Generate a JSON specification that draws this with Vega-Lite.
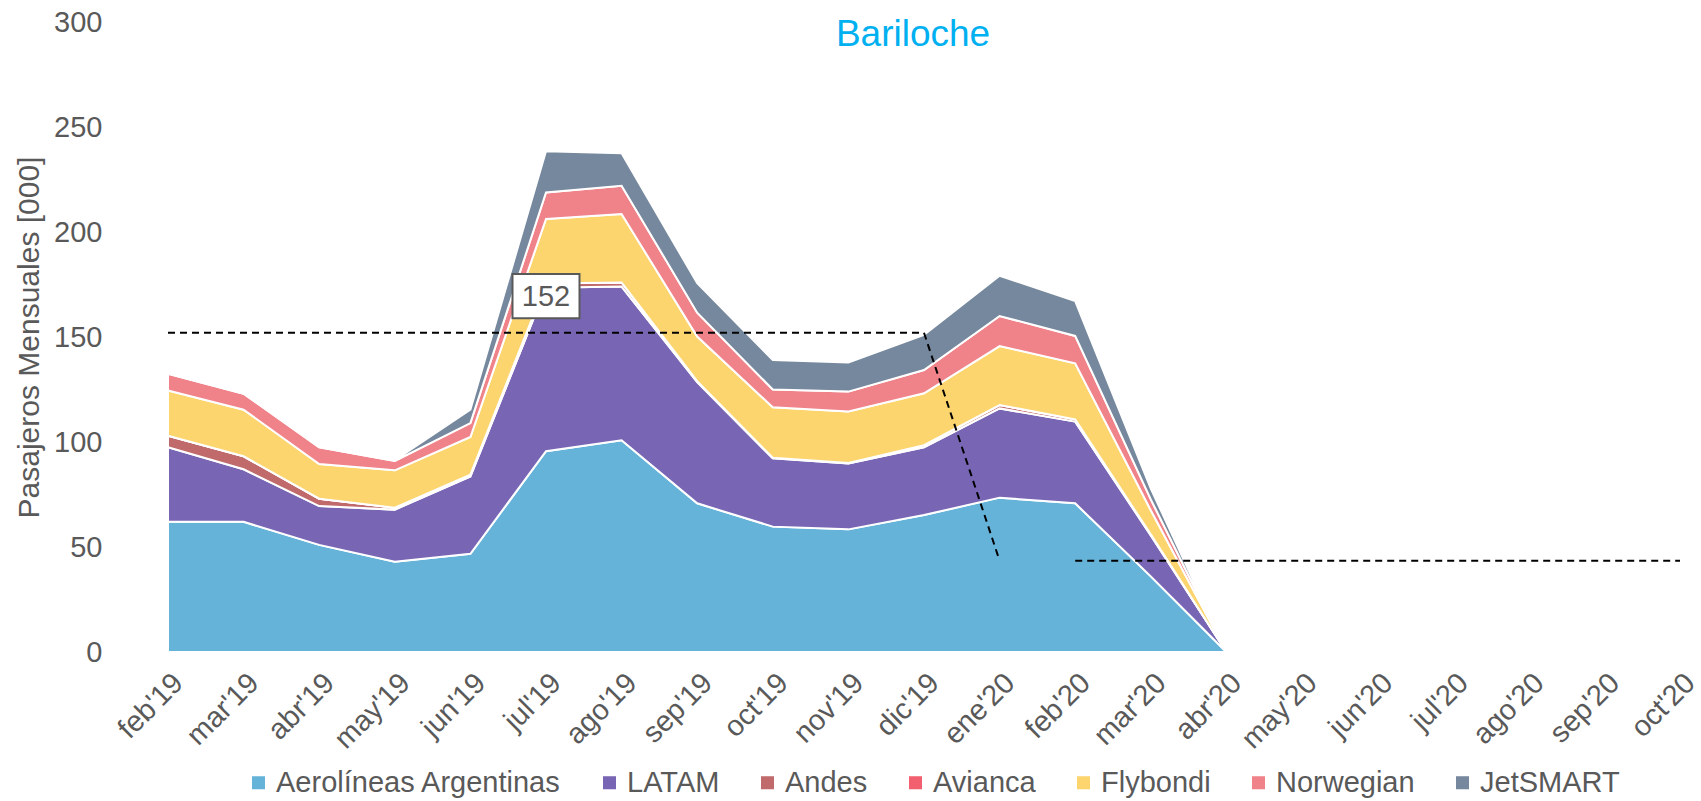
{
  "$schema": "https://vega.github.io/schema/vega-lite/v6.json",
  "width": 1512,
  "height": 630,
  "autosize": {"type": "none"},
  "padding": {"left": 168, "top": 22, "right": 21, "bottom": 149},
  "background": "white",
  "config": {"font": "Liberation Sans", "view": {"stroke": null}},
  "title": {"text": "Bariloche", "color": "#00B0F0", "fontSize": 37, "fontWeight": "normal", "font": "Liberation Sans", "anchor": "middle", "frame": "group", "baseline": "alphabetic", "offset": -75, "dx": -11},
  "datasets": {
    "trafico": [
      {"mes": "feb'19", "Aerolíneas Argentinas": 62, "LATAM": 35.5, "Andes": 5.5, "Avianca": 0, "Flybondi": 21.5, "Norwegian": 8, "JetSMART": 0},
      {"mes": "mar'19", "Aerolíneas Argentinas": 62, "LATAM": 25, "Andes": 6.2, "Avianca": 0, "Flybondi": 22.2, "Norwegian": 7.6, "JetSMART": 0},
      {"mes": "abr'19", "Aerolíneas Argentinas": 51, "LATAM": 18.5, "Andes": 3.5, "Avianca": 0, "Flybondi": 16.5, "Norwegian": 8, "JetSMART": 0},
      {"mes": "may'19", "Aerolíneas Argentinas": 43, "LATAM": 24.8, "Andes": 0.9, "Avianca": 0, "Flybondi": 17.8, "Norwegian": 4.5, "JetSMART": 0.3},
      {"mes": "jun'19", "Aerolíneas Argentinas": 46.8, "LATAM": 36.8, "Andes": 0.9, "Avianca": 0, "Flybondi": 17.9, "Norwegian": 6.6, "JetSMART": 6.4},
      {"mes": "jul'19", "Aerolíneas Argentinas": 95.6, "LATAM": 77.9, "Andes": 2, "Avianca": 0, "Flybondi": 30.7, "Norwegian": 12.6, "JetSMART": 19.7},
      {"mes": "ago'19", "Aerolíneas Argentinas": 100.8, "LATAM": 73.2, "Andes": 2, "Avianca": 0, "Flybondi": 32.6, "Norwegian": 13.4, "JetSMART": 15.5},
      {"mes": "sep'19", "Aerolíneas Argentinas": 70.8, "LATAM": 57.7, "Andes": 0.5, "Avianca": 0, "Flybondi": 21.2, "Norwegian": 11.4, "JetSMART": 14},
      {"mes": "oct'19", "Aerolíneas Argentinas": 59.7, "LATAM": 32.5, "Andes": 0.3, "Avianca": 0, "Flybondi": 24, "Norwegian": 8.5, "JetSMART": 14},
      {"mes": "nov'19", "Aerolíneas Argentinas": 58.4, "LATAM": 31.4, "Andes": 0.2, "Avianca": 0, "Flybondi": 24.5, "Norwegian": 9.5, "JetSMART": 13.9},
      {"mes": "dic'19", "Aerolíneas Argentinas": 65.2, "LATAM": 32.3, "Andes": 1, "Avianca": 0, "Flybondi": 24.7, "Norwegian": 11.1, "JetSMART": 16.7},
      {"mes": "ene'20", "Aerolíneas Argentinas": 73.5, "LATAM": 42.5, "Andes": 1.6, "Avianca": 0, "Flybondi": 28.1, "Norwegian": 14.3, "JetSMART": 19.2},
      {"mes": "feb'20", "Aerolíneas Argentinas": 70.8, "LATAM": 38.9, "Andes": 1.1, "Avianca": 0, "Flybondi": 26.7, "Norwegian": 13, "JetSMART": 16.6},
      {"mes": "mar'20", "Aerolíneas Argentinas": 36, "LATAM": 19.5, "Andes": 0.5, "Avianca": 0, "Flybondi": 11.5, "Norwegian": 5.2, "JetSMART": 5.1},
      {"mes": "abr'20", "Aerolíneas Argentinas": 0, "LATAM": 0, "Andes": 0, "Avianca": 0, "Flybondi": 0, "Norwegian": 0, "JetSMART": 0}
    ],
    "umbral": [
      {"mes": "feb'19", "valor": 152, "tramo": "a"},
      {"mes": "dic'19", "valor": 152, "tramo": "a"},
      {"mes": "ene'20", "valor": 43.5, "tramo": "a"},
      {"mes": "feb'20", "valor": 43.5, "tramo": "b"},
      {"mes": "oct'20", "valor": 43.5, "tramo": "b"}
    ],
    "etiqueta": [
      {"mes": "jul'19", "valor": 169.5, "texto": "152"}
    ]
  },
  "layer": [
    {
      "data": {"name": "trafico"},
      "transform": [
        {"fold": ["Aerolíneas Argentinas", "LATAM", "Andes", "Avianca", "Flybondi", "Norwegian", "JetSMART"], "as": ["aerolinea", "pax"]},
        {"calculate": "indexof(['Aerolíneas Argentinas','LATAM','Andes','Avianca','Flybondi','Norwegian','JetSMART'], datum.aerolinea)", "as": "orden"}
      ],
      "mark": {"type": "area", "stroke": "white", "strokeWidth": 2, "opacity": 1},
      "encoding": {
        "x": {
          "field": "mes", "type": "ordinal", "sort": null,
          "scale": {"type": "point", "padding": 0, "domain": ["feb'19", "mar'19", "abr'19", "may'19", "jun'19", "jul'19", "ago'19", "sep'19", "oct'19", "nov'19", "dic'19", "ene'20", "feb'20", "mar'20", "abr'20", "may'20", "jun'20", "jul'20", "ago'20", "sep'20", "oct'20"]},
          "axis": {"title": null, "labelAngle": -45, "labelFontSize": 29, "labelColor": "#595959", "labelPadding": 16, "domain": false, "ticks": false, "grid": false, "labelOverlap": false, "labelBound": false}
        },
        "y": {
          "field": "pax", "type": "quantitative", "stack": "zero",
          "scale": {"domain": [0, 300], "nice": false},
          "axis": {"title": "Pasajeros Mensuales [000]", "values": [0, 50, 100, 150, 200, 250, 300], "labelFontSize": 29, "labelColor": "#595959", "labelPadding": 66, "domain": false, "ticks": false, "grid": false, "titleFontSize": 30, "titleColor": "#595959", "titleFontWeight": "normal", "titlePadding": 9}
        },
        "color": {
          "field": "aerolinea", "type": "nominal",
          "scale": {"domain": ["Aerolíneas Argentinas", "LATAM", "Andes", "Avianca", "Flybondi", "Norwegian", "JetSMART"], "range": ["#66B3DA", "#7866B4", "#C06A6C", "#F2606F", "#FDD56F", "#F08289", "#76889D"]},
          "legend": {"title": null, "orient": "none", "legendX": 76, "legendY": 746, "direction": "horizontal", "columns": 7, "symbolType": "square", "symbolSize": 170, "symbolStrokeWidth": 0, "labelFontSize": 29, "labelColor": "#595959", "labelOffset": 3, "columnPadding": 33, "padding": 0, "labelLimit": 400}
        },
        "order": {"field": "orden", "type": "quantitative"}
      }
    },
    {
      "data": {"name": "umbral"},
      "mark": {"type": "line", "color": "black", "strokeDash": [7, 5], "strokeWidth": 2},
      "encoding": {
        "x": {"field": "mes", "type": "ordinal", "sort": null},
        "y": {"field": "valor", "type": "quantitative"},
        "detail": {"field": "tramo", "type": "nominal"}
      }
    },
    {
      "data": {"name": "etiqueta"},
      "mark": {"type": "point", "shape": "M-1,-0.66H1V0.66H-1Z", "filled": true, "fill": "white", "stroke": "#595959", "strokeWidth": 2, "size": 4489, "opacity": 1},
      "encoding": {
        "x": {"field": "mes", "type": "ordinal", "sort": null},
        "y": {"field": "valor", "type": "quantitative"}
      }
    },
    {
      "data": {"name": "etiqueta"},
      "mark": {"type": "text", "fontSize": 29, "color": "#595959", "baseline": "middle", "align": "center", "dy": 1},
      "encoding": {
        "x": {"field": "mes", "type": "ordinal", "sort": null},
        "y": {"field": "valor", "type": "quantitative"},
        "text": {"field": "texto"}
      }
    }
  ]
}
